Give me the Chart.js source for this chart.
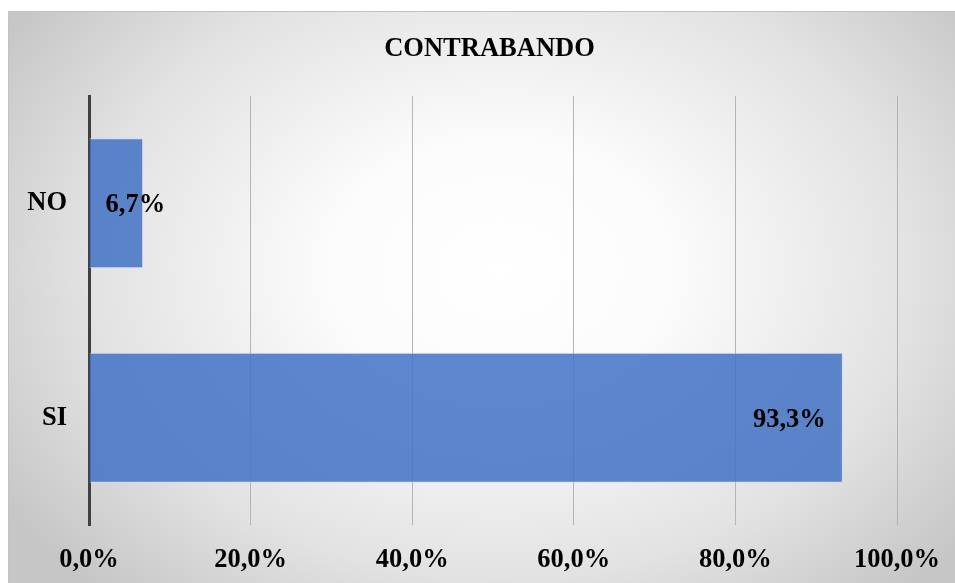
<!DOCTYPE html>
<html lang="es">
  <head>
    <meta charset="UTF-8" />
    <title>Contrabando</title>
    <script src="https://cdn.jsdelivr.net/npm/chart.js"></script>
    <style>
      body {
        margin: 0;
        background: #ffffff;
      }
      #chart {
        position: absolute;
        left: 8px;
        top: 11px;
        display: block;
      }
    </style>
  </head>
  <body>
    <canvas id="chart" width="947" height="572"></canvas>

    <script>
      const categories = ["NO", "SI"];
      const percentages = [6.7, 93.3];
      const tickValues = [0, 20, 40, 60, 80, 100];
      const chartTitle = "CONTRABANDO";

      const serif = "'Liberation Serif', 'Times New Roman', serif";
      const fmt = (v) => v.toFixed(1).replace(".", ",") + "%";

      // radial grey-to-white background like the office chart style
      const backgroundPlugin = {
        id: "bg",
        beforeDraw(chart) {
          const { ctx, width, height } = chart;
          ctx.save();
          const cx = width * 0.52;
          const cy = height * 0.45;
          const k = (height / width) * 1.25;
          ctx.translate(cx, cy);
          ctx.scale(1, k);
          const r = width * 0.62;
          const g = ctx.createRadialGradient(0, 0, 0, 0, 0, r);
          g.addColorStop(0, "#ffffff");
          g.addColorStop(0.3, "#fbfbfb");
          g.addColorStop(0.7, "#e2e2e2");
          g.addColorStop(1, "#c6c6c6");
          ctx.fillStyle = g;
          ctx.fillRect(-cx, -cy / k, width, height / k);
          ctx.restore();
          // frame
          ctx.save();
          ctx.strokeStyle = "#c2c2c2";
          ctx.lineWidth = 1;
          ctx.beginPath();
          ctx.moveTo(0.5, height);
          ctx.lineTo(0.5, 0.5);
          ctx.lineTo(width, 0.5);
          ctx.stroke();
          // title centred on the whole chart, not the plot
          ctx.font = "bold 26.5px " + serif;
          ctx.fillStyle = "#000000";
          ctx.textAlign = "center";
          ctx.textBaseline = "middle";
          ctx.fillText(chartTitle, width / 2 + 8, 38);
          ctx.restore();
        },
      };

      // value labels drawn on the bars
      const labelPlugin = {
        id: "valueLabels",
        afterDatasetsDraw(chart) {
          const { ctx } = chart;
          const meta = chart.getDatasetMeta(0);
          ctx.save();
          ctx.font = "bold 26.5px " + serif;
          ctx.fillStyle = "#000000";
          ctx.textBaseline = "middle";
          meta.data.forEach((bar, i) => {
            const text = fmt(percentages[i]);
            const w = ctx.measureText(text).width;
            if (bar.x - bar.base > w + 40) {
              ctx.textAlign = "right";
              ctx.fillText(text, bar.x - 17, bar.y + 2);
            } else {
              ctx.textAlign = "left";
              ctx.fillText(text, bar.base + 16, bar.y + 2);
            }
          });
          ctx.restore();
        },
      };

      const ctx = document.getElementById("chart").getContext("2d");
      new Chart(ctx, {
        type: "bar",
        data: {
          labels: categories,
          datasets: [
            {
              data: percentages,
              backgroundColor: "rgba(68, 114, 196, 0.86)",
              borderColor: "rgba(200, 215, 245, 0.8)",
              borderWidth: 1,
              categoryPercentage: 1,
              barPercentage: 0.606,
            },
          ],
        },
        options: {
          indexAxis: "y",
          responsive: false,
          animation: false,
          layout: {
            padding: { left: 0, right: 58, top: 85, bottom: 10 },
          },
          plugins: {
            legend: { display: false },
            tooltip: { enabled: false },
            title: { display: false },
          },
          scales: {
            x: {
              min: 0,
              max: 100,
              afterBuildTicks(axis) {
                axis.ticks = tickValues.map((v) => ({ value: v }));
              },
              afterFit(axis) {
                axis.height = 48;
                axis.paddingLeft = 0;
                axis.paddingRight = 0;
              },
              grid: {
                color: "#b4b4b4",
                lineWidth: 1,
                drawTicks: false,
              },
              border: { display: false },
              ticks: {
                padding: 19,
                maxRotation: 0,
                color: "#000000",
                font: { family: serif, size: 26.5, weight: "bold" },
                callback: (v) => fmt(v),
              },
            },
            y: {
              afterFit(axis) {
                axis.width = 81;
              },
              grid: { display: false, drawTicks: false },
              border: { display: true, color: "#404040", width: 3 },
              ticks: {
                padding: 22,
                color: "#000000",
                font: { family: serif, size: 26.5, weight: "bold" },
              },
            },
          },
        },
        plugins: [backgroundPlugin, labelPlugin],
      });
    </script>
  </body>
</html>
